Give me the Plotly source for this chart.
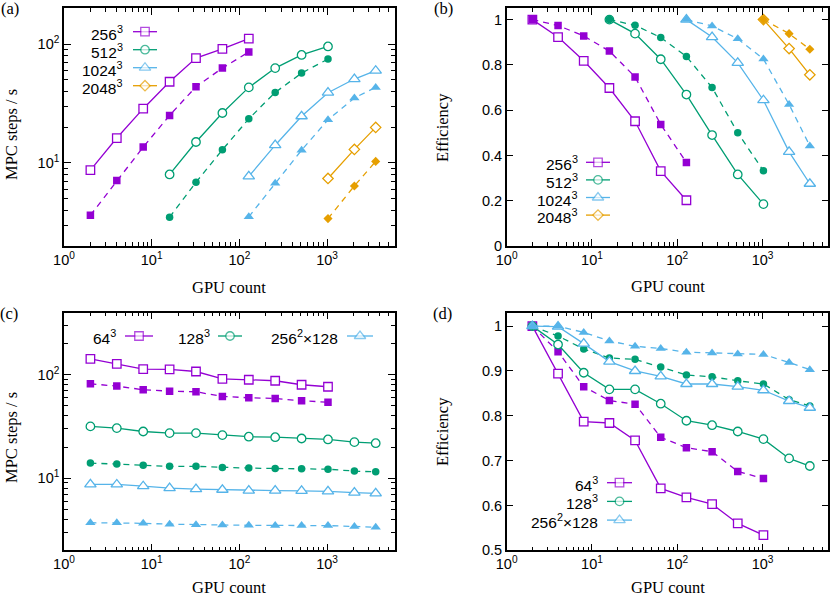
import plotly.graph_objects as go

# GPU counts
n_256 = [2, 4, 8, 16, 32, 64, 128]
n_512 = [16, 32, 64, 128, 256, 512, 1024]
n_1024 = [128, 256, 512, 1024, 2048, 3584]
n_2048 = [1024, 2048, 3584]
n_weak64 = [2, 4, 8, 16, 32, 64, 128, 256, 512, 1024]
n_weak = [2, 4, 8, 16, 32, 64, 128, 256, 512, 1024, 2048, 3584]

# (a) strong scaling, MPC steps / s  (open = solid line, fill = dashed line)
a_256_open = [8.7, 16.2, 28.6, 48.2, 76.2, 91, 111]
a_256_fill = [3.63, 7.1, 13.6, 25.1, 43.8, 62.8, 85.7]
a_512_open = [8.0, 15.0, 26.3, 43.2, 62.8, 81, 95.5]
a_512_fill = [3.49, 6.87, 12.9, 23.5, 39.2, 57, 74.8]
a_1024_open = [7.7, 14.1, 24.7, 39.0, 50.8, 59.7]
a_1024_fill = [3.52, 6.74, 12.8, 23.1, 35.2, 43.2]
a_2048_open = [7.4, 13.0, 19.9]
a_2048_fill = [3.4, 6.4, 10.3]

# (b) strong scaling efficiency
b_256_open = [1.0, 0.923, 0.818, 0.698, 0.551, 0.331, 0.202]
b_256_fill = [1.0, 0.974, 0.928, 0.861, 0.747, 0.537, 0.369]
b_512_open = [1.0, 0.938, 0.825, 0.669, 0.49, 0.316, 0.185]
b_512_fill = [1.0, 0.975, 0.921, 0.837, 0.70, 0.50, 0.332]
b_1024_open = [1.0, 0.923, 0.809, 0.644, 0.416, 0.275]
b_1024_fill = [1.0, 0.972, 0.915, 0.826, 0.625, 0.442]
b_2048_open = [1.0, 0.872, 0.756]
b_2048_fill = [1.0, 0.938, 0.869]

# (c) weak scaling, MPC steps / s
c_64_open = [143, 128, 113.5, 112.8, 107.8, 91.6, 89.7, 87.7, 80.2, 76.7]
c_64_fill = [82, 77.8, 71.8, 69.5, 68.6, 61.8, 60, 59.1, 56.1, 54.4]
c_128_open = [31.7, 30.5, 28.3, 27.3, 27.3, 26.1, 25.2, 24.9, 24.2, 23.7, 22.3, 21.8]
c_128_fill = [14.0, 13.7, 13.3, 13.0, 13.0, 12.7, 12.5, 12.4, 12.3, 12.2, 11.7, 11.5]
c_slab_open = [8.69, 8.68, 8.35, 8.0, 7.82, 7.72, 7.57, 7.57, 7.52, 7.45, 7.24, 7.11]
c_slab_fill = [3.70, 3.70, 3.65, 3.58, 3.53, 3.52, 3.49, 3.48, 3.47, 3.47, 3.40, 3.34]

# (d) weak scaling efficiency
d_64_open = [1.0, 0.894, 0.787, 0.784, 0.745, 0.638, 0.618, 0.603, 0.56, 0.534]
d_64_fill = [1.0, 0.943, 0.865, 0.834, 0.826, 0.752, 0.729, 0.72, 0.676, 0.66]
d_128_open = [1.0, 0.959, 0.896, 0.859, 0.859, 0.827, 0.789, 0.779, 0.765, 0.748, 0.705, 0.688]
d_128_fill = [1.0, 0.978, 0.949, 0.929, 0.926, 0.909, 0.891, 0.887, 0.878, 0.871, 0.836, 0.822]
d_slab_open = [1.0, 0.999, 0.961, 0.921, 0.90, 0.888, 0.871, 0.871, 0.865, 0.857, 0.833, 0.818]
d_slab_fill = [1.0, 1.0, 0.986, 0.967, 0.955, 0.95, 0.942, 0.94, 0.938, 0.937, 0.919, 0.903]

labels_a = ["256<sup>3</sup>", "512<sup>3</sup>", "1024<sup>3</sup>", "2048<sup>3</sup>"]
labels_c = ["64<sup>3</sup>", "128<sup>3</sup>", "256<sup>2</sup>×128"]

PURPLE, GREEN, BLUE, ORANGE = "#9400D3", "#009E73", "#56B4E9", "#E69F00"
SANS = "Liberation Sans, Arial, sans-serif"
SERIF = "Liberation Serif, Times New Roman, serif"
W, H = 830, 597
LW = 1.3
DASH = "6px,5px"

sym = {"square": 8.5, "circle": 8.5, "triangle-up": 10, "diamond": 8}


def px(x):
    return x / W


def py(y):
    return 1 - y / H


fig = go.Figure()


def add_pair(xs, yo, yf, color, symbol, ax):
    s = sym[symbol]
    fig.add_trace(go.Scatter(
        x=xs, y=yo, mode="lines+markers", xaxis="x" + ax, yaxis="y" + ax,
        line=dict(color=color, width=LW),
        marker=dict(symbol=symbol, size=s, color="white", line=dict(color=color, width=LW)),
        showlegend=False))
    fig.add_trace(go.Scatter(
        x=xs, y=yf, mode="lines+markers", xaxis="x" + ax, yaxis="y" + ax,
        line=dict(color=color, width=LW, dash=DASH),
        marker=dict(symbol=symbol, size=s - 1, color=color, line=dict(color=color, width=0)),
        showlegend=False))


# panel a
add_pair(n_256, a_256_open, a_256_fill, PURPLE, "square", "")
add_pair(n_512, a_512_open, a_512_fill, GREEN, "circle", "")
add_pair(n_1024, a_1024_open, a_1024_fill, BLUE, "triangle-up", "")
add_pair(n_2048, a_2048_open, a_2048_fill, ORANGE, "diamond", "")
# panel b
add_pair(n_256, b_256_open, b_256_fill, PURPLE, "square", "2")
add_pair(n_512, b_512_open, b_512_fill, GREEN, "circle", "2")
add_pair(n_1024, b_1024_open, b_1024_fill, BLUE, "triangle-up", "2")
add_pair(n_2048, b_2048_open, b_2048_fill, ORANGE, "diamond", "2")
# panel c
add_pair(n_weak64, c_64_open, c_64_fill, PURPLE, "square", "3")
add_pair(n_weak, c_128_open, c_128_fill, GREEN, "circle", "3")
add_pair(n_weak, c_slab_open, c_slab_fill, BLUE, "triangle-up", "3")
# panel d
add_pair(n_weak64, d_64_open, d_64_fill, PURPLE, "square", "4")
add_pair(n_weak, d_128_open, d_128_fill, GREEN, "circle", "4")
add_pair(n_weak, d_slab_open, d_slab_fill, BLUE, "triangle-up", "4")

annotations = []


# gnuplot-style key: text on the left, sample on the right (pixel positions)
def key_entry(text, text_x, y, x0, x1, color, symbol):
    s = sym[symbol]
    fig.add_trace(go.Scatter(
        x=[x0, (x0 + x1) / 2, x1], y=[y, y, y], mode="lines+markers",
        xaxis="x5", yaxis="y5", line=dict(color=color, width=LW),
        marker=dict(symbol=symbol, size=[0, s, 0], color="white",
                    line=dict(color=color, width=LW)),
        showlegend=False, hoverinfo="skip"))
    annotations.append(dict(text=text, x=px(text_x), y=py(y + 1), xref="paper", yref="paper",
                            xanchor="right", yanchor="middle", showarrow=False,
                            font=dict(family=SANS, size=15.5, color="black")))


cols4 = [PURPLE, GREEN, BLUE, ORANGE]
syms4 = ["square", "circle", "triangle-up", "diamond"]
for i in range(4):
    key_entry(labels_a[i], 125, 31.7 + 18 * i, 133, 157, cols4[i], syms4[i])
    key_entry(labels_a[i], 580, 162.3 + 17.6 * i, 586, 610, cols4[i], syms4[i])
c_key = [(118, 125, 153), (212, 218, 242), (340, 347, 373)]
for i in range(3):
    tx, x0, x1 = c_key[i]
    key_entry(labels_c[i], tx, 336, x0, x1, cols4[i], syms4[i])
    key_entry(labels_c[i], 600, 482.7 + 18.7 * i, 607, 632, cols4[i], syms4[i])

# axes
xl = [px(64), px(394.7)]
xr = [px(506.7), px(828.3)]
yt = [py(246), py(8.3)]
yb = [py(550.3), py(312.7)]

log_minor = [m * 10 ** e for e in range(-1, 4) for m in range(2, 10)]
tickfont = dict(family=SANS, size=14.5, color="black")


def log_x(dom, anchor):
    return dict(type="log", domain=dom, anchor=anchor, range=[0, 3.771], automargin=False,
                tickvals=[1, 10, 100, 1000],
                ticktext=["10<sup>0</sup>", "10<sup>1</sup>", "10<sup>2</sup>", "10<sup>3</sup>"],
                showline=True, linecolor="black", linewidth=1.5, mirror="ticks",
                ticks="inside", ticklen=7, tickwidth=1, tickcolor="black",
                showgrid=False, zeroline=False, tickfont=tickfont,
                minor=dict(tickvals=log_minor, ticks="inside", ticklen=4, tickwidth=1,
                           tickcolor="black", showgrid=False))


def log_y(dom, anchor, rng):
    d = log_x(dom, anchor)
    d["range"] = rng
    d["tickvals"] = [10, 100]
    d["ticktext"] = ["10<sup>1</sup>", "10<sup>2</sup>"]
    return d


def lin_y(dom, anchor, rng, vals, text):
    return dict(domain=dom, anchor=anchor, range=rng, tickvals=vals, ticktext=text,
                automargin=False,
                showline=True, linecolor="black", linewidth=1.5, mirror="ticks",
                ticks="inside", ticklen=7, tickwidth=1, tickcolor="black",
                showgrid=False, zeroline=False, tickfont=tickfont)


eff_b = [0, 0.2, 0.4, 0.6, 0.8, 1.0]
eff_d = [0.5, 0.6, 0.7, 0.8, 0.9, 1.0]

fig.update_layout(
    width=W, height=H, margin=dict(l=0, r=0, t=0, b=0, autoexpand=False),
    paper_bgcolor="white", plot_bgcolor="rgba(0,0,0,0)",
    xaxis=log_x(xl, "y"), yaxis=log_y(yt, "x", [0.30103, 2.30103]),
    xaxis2=log_x(xr, "y2"),
    yaxis2=lin_y(yt, "x2", [0, 1.05], eff_b, ["0", "0.2", "0.4", "0.6", "0.8", "1"]),
    xaxis3=log_x(xl, "y3"), yaxis3=log_y(yb, "x3", [0.30103, 2.60206]),
    xaxis4=log_x(xr, "y4"),
    yaxis4=lin_y(yb, "x4", [0.5, 1.03], eff_d, ["0.5", "0.6", "0.7", "0.8", "0.9", "1"]),
    xaxis5=dict(domain=[0, 1], range=[0, W], visible=False, anchor="y5", automargin=False),
    yaxis5=dict(domain=[0, 1], range=[H, 0], visible=False, anchor="x5", automargin=False),
)

serif = dict(family=SERIF, size=16.5, color="black")
for text, x, y, ang in [
    ("GPU count", 229, 287, 0), ("GPU count", 667.5, 286, 0),
    ("GPU count", 229, 587, 0), ("GPU count", 667.5, 587, 0),
    ("MPC steps / s", 11, 135, -90), ("Efficiency", 442, 128, -90),
    ("MPC steps / s", 11, 438, -90), ("Efficiency", 442, 432, -90),
    ("(a)", 9.5, 8, 0), ("(b)", 443, 8, 0), ("(c)", 9, 313, 0), ("(d)", 442, 313, 0),
]:
    annotations.append(dict(text=text, x=px(x), y=py(y), xref="paper", yref="paper",
                            xanchor="center", yanchor="middle", showarrow=False,
                            textangle=ang, font=serif))

fig.update_layout(annotations=annotations)
fig.write_html("out.html", config={"displayModeBar": False},
               post_script="document.body.style.margin='0px';")
